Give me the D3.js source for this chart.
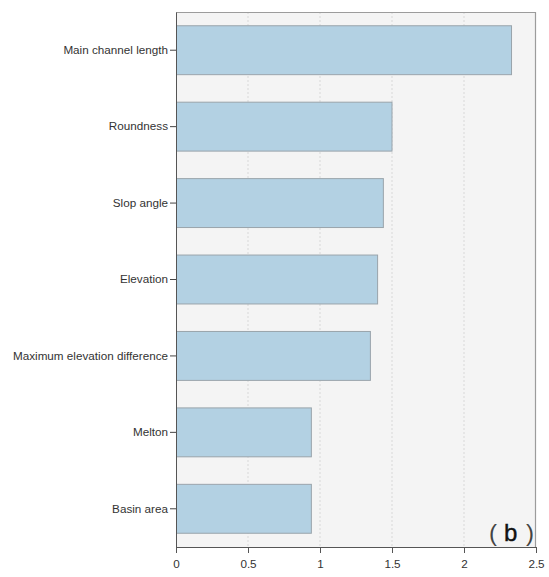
<!DOCTYPE html>
<html>
<head>
<meta charset="utf-8">
<script src="https://cdn.jsdelivr.net/npm/d3@7"></script>
<style>
  html, body { margin: 0; padding: 0; background: #ffffff; }
  svg { display: block; }
  .tick text { font-family: "Liberation Sans", Arial, sans-serif; font-size: 11.7px; fill: #333; }
</style>
</head>
<body>
<svg id="chart" width="549" height="577"></svg>
<script>
// Factor importance (top to bottom)
const factors = ["Main channel length", "Roundness", "Slop angle", "Elevation",
                 "Maximum elevation difference", "Melton", "Basin area"];
const importance = [2.33, 1.50, 1.44, 1.40, 1.35, 0.94, 0.94];
const xTicks = [0, 0.5, 1, 1.5, 2, 2.5];
const xTickLabels = ["0", "0.5", "1", "1.5", "2", "2.5"];
const panelLabel = ["(", "b", ")"];

const margin = { top: 12, right: 13, bottom: 30, left: 176 };
const width = 549, height = 577;
const iw = width - margin.left - margin.right;
const ih = height - margin.top - margin.bottom;

const svg = d3.select("#chart");
const g = svg.append("g").attr("transform", `translate(${margin.left},${margin.top})`);

const x = d3.scaleLinear().domain([0, 2.5]).range([0, iw]);
const y = d3.scaleBand().domain(factors).range([0, ih]).paddingInner(0.36).paddingOuter(0.18);

// panel background
g.append("rect").attr("width", iw).attr("height", ih).attr("fill", "#f4f4f4");

// dotted vertical gridlines
g.append("g").selectAll("line").data(xTicks.slice(1, -1)).join("line")
  .attr("x1", d => x(d)).attr("x2", d => x(d))
  .attr("y1", 0).attr("y2", ih)
  .attr("stroke", "#d8d8d8").attr("stroke-width", 1).attr("stroke-dasharray", "2,2");

// bars
g.append("g").selectAll("rect").data(factors).join("rect")
  .attr("x", 0.5)
  .attr("y", d => y(d))
  .attr("width", (d, i) => x(importance[i]) - 0.5)
  .attr("height", y.bandwidth())
  .attr("fill", "#b3d1e3")
  .attr("stroke", "#9aa4ab").attr("stroke-width", 1);

// frame top/right
g.append("path")
  .attr("d", `M0,0.5H${iw - 0.5}V${ih}`)
  .attr("fill", "none").attr("stroke", "#9c9c9c").attr("stroke-width", 1.2);

// x axis
const xAxis = d3.axisBottom(x).tickValues(xTicks)
  .tickFormat((d, i) => xTickLabels[i]).tickSize(6).tickSizeOuter(0);
const gx = g.append("g").attr("transform", `translate(0,${ih})`).call(xAxis);
gx.select(".domain").attr("stroke", "#555");
gx.selectAll(".tick line").attr("stroke", "#555");
gx.selectAll(".tick text").attr("dy", "1.05em");

// y axis
const yAxis = d3.axisLeft(y).tickSize(6).tickSizeOuter(0);
const gy = g.append("g").call(yAxis);
gy.select(".domain").attr("stroke", "#555");
gy.selectAll(".tick line").attr("stroke", "#444");
gy.selectAll(".tick text").attr("x", -8);

// panel label with wide-set parentheses
const lbl = g.append("text")
  .attr("y", ih - 6.5)
  .attr("font-family", "'Liberation Sans', Arial, sans-serif")
  .attr("font-size", 24).attr("fill", "#111");
lbl.append("tspan").attr("x", iw - 47).attr("fill", "#444").text(panelLabel[0]);
lbl.append("tspan").attr("x", iw - 32).attr("stroke", "#111").attr("stroke-width", 0.4).text(panelLabel[1]);
lbl.append("tspan").attr("x", iw - 10).attr("fill", "#444").text(panelLabel[2]);
</script>
</body>
</html>
